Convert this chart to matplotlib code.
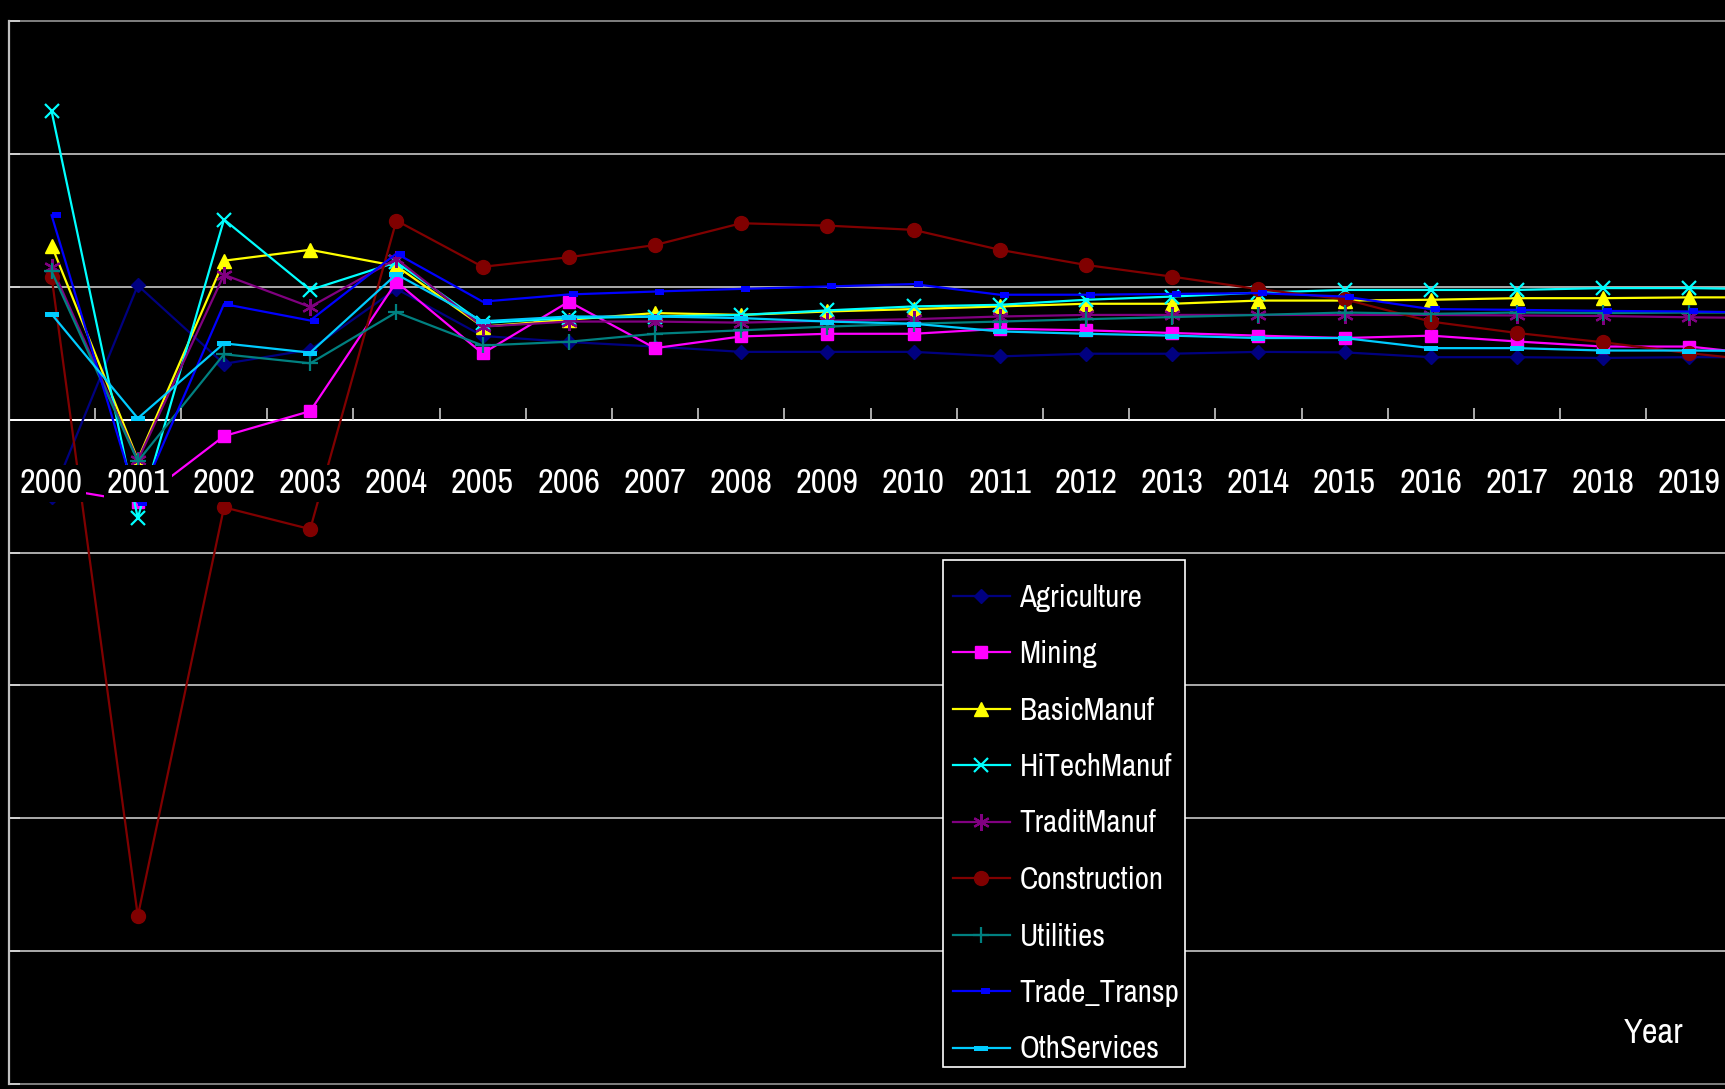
import os
import matplotlib
matplotlib.use("Agg")
import matplotlib.pyplot as plt
from matplotlib import font_manager as fm
from matplotlib.patches import Rectangle
from matplotlib.path import Path
import numpy as np

# ---- data -------------------------------------------------------------
years = [str(y) for y in range(2000, 2021)]

agriculture = [-2.9, 5.05, 2.1, 2.63, 4.92, 3.15, 2.92, 2.75, 2.55, 2.55, 2.55,
               2.38, 2.48, 2.48, 2.55, 2.53, 2.35, 2.35, 2.32, 2.35, 2.35]
mining = [-2.55, -3.1, -0.62, 0.32, 5.18, 2.49, 4.44, 2.69, 3.13, 3.23, 3.23,
          3.42, 3.36, 3.26, 3.16, 3.07, 3.16, 2.94, 2.75, 2.75, 2.4]
basic_manuf = [6.55, -1.5, 5.98, 6.39, 5.78, 3.5, 3.76, 4.01, 3.94, 4.07, 4.16,
               4.26, 4.36, 4.36, 4.48, 4.48, 4.51, 4.57, 4.57, 4.6, 4.6]
hitech_manuf = [11.6, -3.7, 7.53, 4.88, 5.92, 3.64, 3.82, 3.88, 3.94, 4.11, 4.26,
                4.32, 4.51, 4.63, 4.78, 4.88, 4.88, 4.88, 4.95, 4.95, 4.9]
tradit_manuf = [5.75, -1.53, 5.45, 4.24, 6.05, 3.5, 3.69, 3.69, 3.65, 3.72, 3.78,
                3.88, 3.94, 3.94, 3.94, 3.94, 3.94, 3.92, 3.9, 3.85, 3.82]
construction = [5.38, -18.68, -3.3, -4.12, 7.49, 5.75, 6.11, 6.57, 7.39, 7.30, 7.14,
                6.39, 5.82, 5.38, 4.91, 4.53, 3.69, 3.26, 2.91, 2.5, 2.16]
utilities = [5.58, -1.57, 2.46, 2.12, 4.04, 2.79, 2.93, 3.23, 3.36, 3.5, 3.61,
             3.69, 3.78, 3.86, 3.94, 4.03, 3.98, 4.03, 4.01, 4.03, 4.03]
trade_transp = [7.69, -3.12, 4.35, 3.73, 6.25, 4.44, 4.71, 4.82, 4.92, 5.01, 5.10,
                4.70, 4.70, 4.73, 4.76, 4.63, 4.16, 4.13, 4.09, 4.07, 4.02]
oth_services = [3.97, 0.05, 2.87, 2.52, 5.47, 3.70, 3.88, 3.88, 3.82, 3.69, 3.61,
                3.32, 3.23, 3.16, 3.07, 3.07, 2.69, 2.69, 2.60, 2.60, 2.58]

y_grid = [-25, -20, -15, -10, -5, 0, 5, 10, 15]


# ---- font: prefer a narrow sans face ------------------------------------
def narrow_font_file():
    bad = ("bold", "italic", "oblique", "light", "thin", "black", "medium",
           "semi", "extra", "ultra", "demi", "heavy")
    files = sorted({f.fname for f in fm.fontManager.ttflist})
    found = []
    for path in files:
        base = os.path.basename(path).lower()
        if any(b in base for b in bad):
            continue
        if "narrow" in base:
            found.append((0, path))
        elif "condensed" in base:
            rank = 1
            for i, fam in enumerate(("liberation", "roboto", "noto", "open", "dejavu")):
                if fam in base:
                    rank = 1 + i
                    break
            found.append((rank, path))
    if found:
        return sorted(found)[0][1]
    for f in fm.fontManager.ttflist:
        if f.name == "Liberation Sans" and f.style == "normal" and f.weight in (400, "normal", "regular"):
            return f.fname
    return None


font_file = narrow_font_file()


def fprops(size):
    if font_file:
        return fm.FontProperties(fname=font_file, size=size)
    return fm.FontProperties(family="DejaVu Sans", size=size)


# ---- markers ----------------------------------------------------------
dash_right = Path([(0, -0.28), (1, -0.28), (1, 0.28), (0, 0.28), (0, -0.28)],
                  [Path.MOVETO, Path.LINETO, Path.LINETO, Path.LINETO, Path.CLOSEPOLY])
dash_wide = Path([(-1, -0.36), (1, -0.36), (1, 0.36), (-1, 0.36), (-1, -0.36)],
                 [Path.MOVETO, Path.LINETO, Path.LINETO, Path.LINETO, Path.CLOSEPOLY])

series = [
    ("Agriculture", agriculture, "#000080", dict(marker="D", ms=7.5)),
    ("Mining", mining, "#FF00FF", dict(marker="s", ms=9)),
    ("BasicManuf", basic_manuf, "#FFFF00", dict(marker="^", ms=10)),
    ("HiTechManuf", hitech_manuf, "#00FFFF", dict(marker="x", ms=10, mew=1.6)),
    ("TraditManuf", tradit_manuf, "#800080", dict(marker=(6, 2, 0), ms=12, mew=1.6)),
    ("Construction", construction, "#800000", dict(marker="o", ms=10)),
    ("Utilities", utilities, "#008080", dict(marker="+", ms=12, mew=1.6)),
    ("Trade_Transp", trade_transp, "#0000FF", dict(marker=dash_right, ms=13, mew=0)),
    ("OthServices", oth_services, "#00CCFF", dict(marker=dash_wide, ms=10, mew=0)),
]

W, H = 1725, 1089
fig = plt.figure(figsize=(W / 100, H / 100), dpi=100, facecolor="black")
renderer = fig.canvas.get_renderer()

# choose a text size: year labels about 63 px wide, never above 26 pt
probe = fig.text(0, 0, "2000", fontproperties=fprops(25))
w25 = probe.get_window_extent(renderer).width
probe.remove()
fs = min(26.0, 25.0 * 63.0 / w25)

# plot area: category spacing 86.2 px, axis runs past the right edge
n = len(years)
left_px, top_px, bottom_px, step_px = 8.5, 21, 1084, 86.2
ax = fig.add_axes([left_px / W, 1 - bottom_px / H,
                   n * step_px / W, (bottom_px - top_px) / H])
ax.set_facecolor("black")

x = np.arange(n)
for name, vals, col, mk in series:
    ax.plot(x, vals, color=col, lw=1.6, label=name, zorder=3,
            mfc=col, mec=col, **mk)

ax.set_xlim(-0.5, n - 0.5)
ax.set_ylim(-25, 15)

# horizontal gridlines
for g in y_grid:
    if g == 0:
        continue
    edge = g in (15, -25)
    ax.axhline(g, color="#808080" if edge else "#C8C8C8",
               lw=1.4 if edge else 1.2, zorder=1, clip_on=False)

for s in ("top", "right"):
    ax.spines[s].set_visible(False)
ax.spines["left"].set_color("#C0C0C0")
ax.spines["left"].set_linewidth(1.6)
ax.spines["bottom"].set_position(("data", 0))
ax.spines["bottom"].set_color("white")
ax.spines["bottom"].set_linewidth(1.4)
ax.spines["bottom"].set_zorder(2)

ax.set_yticks(y_grid)
ax.tick_params(axis="y", direction="in", length=8, color="#D8D8D8",
               labelleft=False, width=1.2)

# boundary ticks between categories; year labels at category centres
# (the last category lies past the right edge of the canvas, so it gets none)
shown = x[:-1]
ax.set_xticks(np.arange(n - 1) + 0.5)
ax.set_xticks(shown, minor=True)
ax.set_xticklabels([], minor=False)
ax.set_xticklabels(years[:-1], minor=True)
cap_px = 0.72 * fs * 100 / 72
label_pad = (75 - cap_px - 0.2 * fs * 100 / 72) * 72 / 100 + 3.2
ax.tick_params(axis="x", which="major", direction="in", length=8.5,
               color="#C8C8C8", width=1.2)
ax.tick_params(axis="x", which="minor", length=0, pad=label_pad,
               labelcolor="white")
for lbl in ax.get_xticklabels(minor=True):
    lbl.set_fontproperties(fprops(fs))
    lbl.set_bbox(dict(facecolor="black", edgecolor="none", pad=2))
ax.xaxis.set_zorder(4)

fig.text(1654 / W, 1 - 1033 / H, "Year", color="white",
         fontproperties=fprops(fs), ha="center", va="center")

# legend: boxed panel, entries every 56.5 px
fs_leg = fs * 0.9
probe = fig.text(0, 0, "Agriculture", fontproperties=fprops(fs_leg))
row_h = probe.get_window_extent(renderer).height
probe.remove()
fs_px = fs_leg * 100 / 72
spacing = max(0.1, (56.5 - row_h) / fs_px)

ax.add_patch(Rectangle((943 / W, 1 - 1067 / H), (1185 - 943) / W, (1067 - 560) / H,
                       transform=fig.transFigure, facecolor="black",
                       edgecolor="white", lw=1.2, clip_on=False, zorder=5))

first_row_top = 597.5 - row_h / 2
leg = ax.legend(loc="upper left", bbox_to_anchor=(952.5 / W, 1 - first_row_top / H),
                bbox_transform=fig.transFigure, prop=fprops(fs_leg), labelcolor="white",
                frameon=False, borderaxespad=0, borderpad=0,
                handlelength=57 / fs_px, handletextpad=10 / fs_px,
                labelspacing=spacing)
leg.set_zorder(6)

fig.savefig("out.png", dpi=100, facecolor="black")
